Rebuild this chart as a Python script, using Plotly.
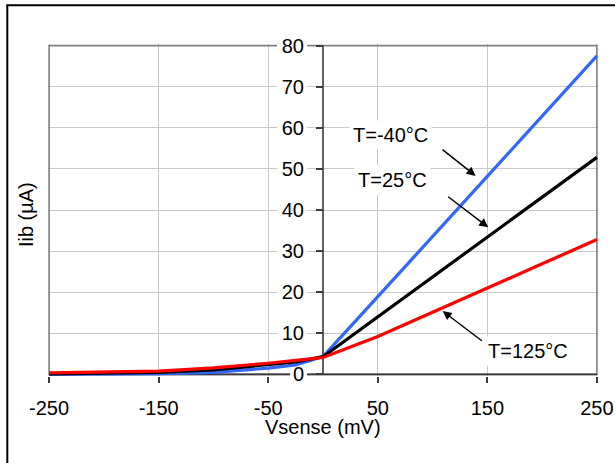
import plotly.graph_objects as go

# ---- data ----
vsense = [-250, -200, -150, -100, -75, -50, -25, 0, 50, 100, 150, 200, 250]
iib_m40 = [0.0, 0.05, 0.15, 0.5, 1.0, 1.5, 2.3, 4.3, 18.9, 33.6, 48.2, 62.9, 77.5]
iib_25 = [0.1, 0.25, 0.5, 1.1, 1.7, 2.3, 3.0, 4.3, 14.0, 23.7, 33.4, 43.1, 52.8]
iib_125 = [0.35, 0.55, 0.8, 1.6, 2.1, 2.7, 3.4, 4.1, 9.2, 15.2, 21.0, 26.9, 32.8]

series_names = ["T=-40°C", "T=25°C", "T=125°C"]
series_colors = ["#3366ff", "#000000", "#ff0000"]

x_ticks = [-250, -150, -50, 50, 150, 250]
y_ticks = [0, 10, 20, 30, 40, 50, 60, 70, 80]

# label positions (data coords) and arrow tail/head (data coords)
label_pos = [(61.6, 58.3), (63.4, 47.2), (187.0, 5.7)]
arrow_tail = [(107.7, 55.0), (112.9, 43.5), (146.3, 7.9)]
arrow_head = [(139.3, 48.3), (150.8, 35.8), (109.2, 15.4)]

FONT = "Liberation Sans, Arial, sans-serif"
FS = 20

fig = go.Figure()
for ys, name, col in zip([iib_m40, iib_25, iib_125], series_names, series_colors):
    fig.add_trace(go.Scatter(x=vsense, y=ys, mode="lines", name=name,
                             line=dict(color=col, width=3.2), showlegend=False))

grid = "#c8c8c8"
dark = "#3a3a3a"

shapes = [
    dict(type="rect", xref="x", yref="y", x0=-250, x1=250, y0=0, y1=80,
         line=dict(color="#808080", width=1.6), layer="between"),
    dict(type="line", xref="x", yref="y", x0=-250, x1=250, y0=0, y1=0,
         line=dict(color=dark, width=1.6), layer="between"),
    dict(type="line", xref="x", yref="y", x0=0, x1=0, y0=0, y1=80,
         line=dict(color=dark, width=1.6), layer="between"),
    dict(type="rect", xref="x", yref="y", x0=-42.0, x1=-14.5, y0=5, y1=80.4,
         line=dict(width=0), fillcolor="white", layer="between"),
    dict(type="rect", xref="x", yref="y", x0=-30.0, x1=-14.5, y0=-0.4, y1=3,
         line=dict(width=0), fillcolor="white", layer="between"),
    dict(type="rect", xref="paper", yref="paper", x0=-0.074, x1=2, y0=-2, y1=1.1166,
         line=dict(color="black", width=2)),
]

annotations = []
for (tx, ty), name in zip(label_pos, series_names):
    annotations.append(dict(x=tx, y=ty, xref="x", yref="y", text=name, showarrow=False,
                            font=dict(family=FONT, size=FS, color="black"),
                            bgcolor="white", borderpad=3))
for (ax_, ay_), (hx, hy) in zip(arrow_tail, arrow_head):
    annotations.append(dict(x=hx, y=hy, xref="x", yref="y", ax=ax_, ay=ay_,
                            axref="x", ayref="y", text="", showarrow=True,
                            arrowhead=2, arrowsize=1.2, arrowwidth=1.5,
                            arrowcolor="black"))
annotations.append(dict(x=-0.041, y=0.486, xref="paper", yref="paper", text="Iib (µA)",
                        textangle=-90, showarrow=False, xanchor="center", yanchor="middle",
                        font=dict(family=FONT, size=FS, color="black")))
annotations.append(dict(x=0.5, y=-0.154, xref="paper", yref="paper", text="Vsense (mV)",
                        showarrow=False, xanchor="center", yanchor="middle",
                        font=dict(family=FONT, size=FS, color="black")))

fig.update_layout(
    width=615, height=463,
    margin=dict(l=48, r=17, t=44, b=87),
    paper_bgcolor="white", plot_bgcolor="white",
    font=dict(family=FONT, size=FS, color="black"),
    xaxis=dict(range=[-251, 251], tickvals=x_ticks, ticktext=[str(v) for v in x_ticks],
               automargin=False,
               showgrid=True, gridcolor=grid, gridwidth=1.2, zeroline=False,
               showline=False, ticks="outside", ticklen=6, tickwidth=1.5, tickcolor=dark,
               ticklabelstandoff=8,
               tickfont=dict(family=FONT, size=FS, color="black")),
    yaxis=dict(range=[-0.4, 80.4], tickvals=y_ticks, ticktext=[str(v) for v in y_ticks],
               automargin=False,
               anchor="free", position=0.5, side="left",
               showgrid=True, gridcolor=grid, gridwidth=1.2, zeroline=False,
               showline=False, ticks="outside", ticklen=7, tickwidth=1.5, tickcolor=dark,
               ticklabelstandoff=8,
               tickfont=dict(family=FONT, size=FS, color="black")),
    shapes=shapes,
    annotations=annotations,
)

fig.write_html("out.html")
